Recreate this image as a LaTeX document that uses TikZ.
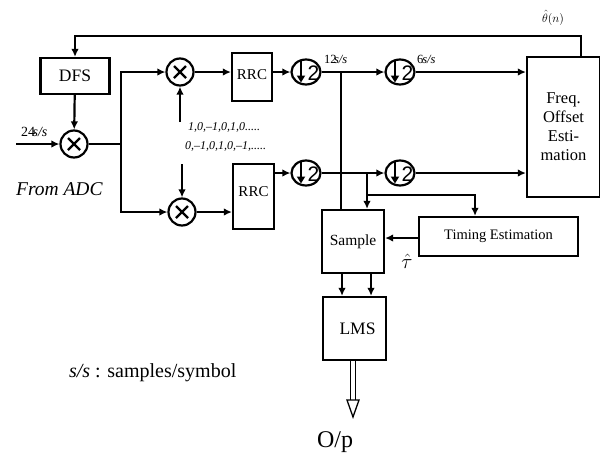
\documentclass[tikz,border=0pt]{standalone}
\usepackage{fontspec}
\setmainfont{Liberation Serif}
\newfontfamily\digitfont{Liberation Sans}
\usetikzlibrary{arrows.meta,calc,shapes.geometric}
\newcommand\fsz[1]{\fontsize{#1}{#1}\selectfont}

\begin{document}
\begin{tikzpicture}[x=1pt,y=-1pt,line width=2.2pt,
  >={Latex[length=8pt,width=7.5pt]},
  blockbox/.style={draw,rectangle,inner sep=0pt},
  lbl/.style={inner sep=0pt},
  mixer/.style={draw,circle,minimum size=27pt,inner sep=0pt,path picture={
    \draw[line width=2.2pt] ([shift={(-6pt,-6pt)}]path picture bounding box.center) -- ([shift={(6pt,6pt)}]path picture bounding box.center)
      ([shift={(-6pt,6pt)}]path picture bounding box.center) -- ([shift={(6pt,-6pt)}]path picture bounding box.center);}},
  decim/.style={draw,ellipse,minimum width=29pt,minimum height=25pt,inner sep=0pt,
    label={[lbl,font=\digitfont\fsz{21},xshift=7.5pt,yshift=-1.5pt]center:2},path picture={
    \draw[line width=2.2pt,-{Triangle[length=7pt,width=8pt]}] ([shift={(-5pt,12pt)}]path picture bounding box.center) -- ([shift={(-5pt,-10.5pt)}]path picture bounding box.center);}}]
  \useasboundingbox (0,0) rectangle (600,453);
  % blocks
  \node[blockbox,minimum width=69pt,minimum height=36pt,font=\fsz{17.5}] (dfs) at (75,76) {DFS};
  \node[mixer] (mixin) at (74,144) {};
  \node[mixer] (mixtop) at (180,72) {};
  \node[mixer] (mixbot) at (182,212) {};
  \node[blockbox,minimum width=40pt,minimum height=48pt,font=\fsz{15}] (rrctop) at (252,77) {\raisebox{5pt}{RRC}};
  \node[blockbox,minimum width=41pt,minimum height=65pt,font=\fsz{15}] (rrcbot) at (253.5,196.5) {\raisebox{9pt}{RRC}};
  \node[decim] (dec1) at (306,72) {}; \node[decim] (dec2) at (400,72) {};
  \node[decim] (dec3) at (306,173) {}; \node[decim] (dec4) at (400,173) {};
  \node[blockbox,minimum width=73pt,minimum height=140pt,align=center,font=\fontsize{16.5}{19}\selectfont] (freq) at (563.5,127) {Freq.\\Offset\\Esti-\\mation};
  \node[blockbox,minimum width=62pt,minimum height=63pt,font=\fsz{15.5}] (sample) at (353,241.5) {Sample};
  \node[blockbox,minimum width=159pt,minimum height=39pt,font=\fsz{14.5}] (timing) at (498.5,236.5) {\raisebox{3pt}{Timing Estimation}\hspace{16pt}};
  \node[blockbox,minimum width=63pt,minimum height=63pt,font=\fsz{17.5}] (lms) at (354.5,328.5) {\hspace{6pt}LMS};
  % points
  \coordinate (fb) at (581,36); \coordinate (adc) at (16,144); \coordinate (split) at (121,144);
  \coordinate (seqtop) at (180,122); \coordinate (seqbot) at (182,164);
  \coordinate (tap12) at (341,72); \coordinate (tap6) at (367,173); \coordinate (tapte) at (367,195);
  \coordinate (op) at (353,417);
  % connectors
  \draw[->] (fb |- freq.north) -- (fb) -| (dfs.north);
  \draw[->] (dfs) -- (mixin); \draw[->] (adc) -- (mixin);
  \draw (mixin) -- (split); \draw[->] (split) |- (mixtop); \draw[->] (split) |- (mixbot);
  \draw[->] (seqtop) -- (mixtop); \draw[->] (seqbot) -- (mixbot);
  \draw[->] (mixtop) -- (rrctop.west |- mixtop); \draw[->] (mixbot) -- (rrcbot.west |- mixbot);
  \draw[->] (rrctop.east |- dec1) -- (dec1); \draw[->] (rrcbot.east |- dec3) -- (dec3);
  \draw[->] (dec1) -- (dec2); \draw[->] (dec3) -- (dec4);
  \draw[->] (dec2) -- (freq.west |- dec2); \draw[->] (dec4) -- (freq.west |- dec4);
  \draw (tap12) -- (sample.north -| tap12);
  \draw[->] (tap6) -- (sample.north -| tap6);
  \draw[->] (tapte) -| ([xshift=-23.5pt]timing.north);
  \draw[->] (timing.west |- 0,238) -- (sample.east |- 0,238);
  \foreach \xx in {342,371} \draw[->] (sample.south -| \xx,0) -- (lms.north -| \xx,0);
  \draw[line width=1.3pt,double,double distance=3.2pt] (lms.south -| op) -- ($(op)+(0,-15)$);
  \draw[line width=1.3pt,fill=white] ($(op)+(-6,-17)$) -- ($(op)+(6,-17)$) -- (op) -- cycle;
  % labels
  \node[lbl,anchor=base west,font=\fsz{14}] (rate24) at (20,136) {24\kern-2.5pt\textit{s/s}};
  \node[lbl,anchor=base west,font=\fsz{19.5}] (adclbl) at (15,195) {\textit{From ADC}};
  \node[lbl,anchor=base west,font=\fsz{12}] (seqi) at (187,130) {\textit{1,0,–1,0,1,0.....}};
  \node[lbl,anchor=base west,font=\fsz{12}] (seqq) at (184,149) {\textit{0,–1,0,1,0,–1,.....}};
  \node[lbl,anchor=base west,font=\fsz{12.5}] (rate12) at (323,63) {12\kern-2.5pt\textit{s/s}};
  \node[lbl,anchor=base west,font=\fsz{12.5}] (rate6) at (416,63) {6\kern-1pt\textit{s/s}};
  \node[lbl,anchor=base west,font=\fsz{13}] (thetalbl) at (541,22) {$\hat{\theta}(n)$};
  \node[lbl,font=\fsz{21}] (taulbl) at (407,261) {$\hat{\tau}$};
  \node[lbl,anchor=base west,font=\fsz{20}] (legend) at (68,377) {\textit{s/s} : samples/symbol};
  \node[lbl,anchor=base west,font=\fsz{24}] (oplbl) at (316,447) {O/p};
\end{tikzpicture}
\end{document}
